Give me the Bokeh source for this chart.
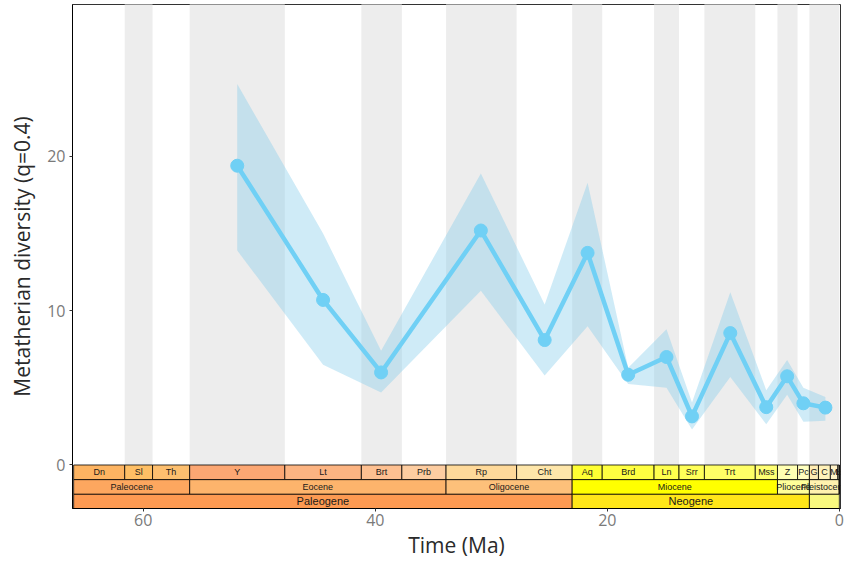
from bokeh.plotting import figure
from bokeh.models import Range1d, FixedTicker
from bokeh.core.properties import value
from bokeh.embed import file_html
from bokeh.resources import INLINE

# ---- diversity series (time in Ma, diversity q=0.4) ----
time_ma = [51.9, 44.5, 39.5, 30.9, 25.4, 21.7, 18.2, 14.9, 12.7, 9.4, 6.3, 4.5, 3.1, 1.2]
diversity = [19.4, 10.7, 6.0, 15.2, 8.1, 13.75, 5.85, 7.0, 3.15, 8.55, 3.75, 5.75, 4.0, 3.72]
upper = [24.7, 15.0, 7.4, 18.9, 10.4, 18.3, 6.3, 8.8, 4.05, 11.2, 4.85, 6.8, 5.0, 4.4]
lower = [13.9, 6.5, 4.7, 11.3, 5.8, 9.0, 5.25, 5.0, 2.3, 5.7, 2.64, 4.55, 2.8, 2.86]

# ---- shaded time bins ----
shade_old = [61.6, 56.0, 41.2, 33.9, 23.03, 15.97, 11.63, 5.333, 2.58]
shade_young = [59.2, 47.8, 37.71, 27.82, 20.44, 13.82, 7.246, 3.6, 0.0]

# ---- geological time scale ----
stage_names = ["Dn", "Sl", "Th", "Y", "Lt", "Brt", "Prb", "Rp", "Cht", "Aq", "Brd", "Ln",
               "Srr", "Trt", "Mss", "Z", "Pc", "G", "C", "M", "L", "H"]
stage_old = [66.0, 61.6, 59.2, 56.0, 47.8, 41.2, 37.71, 33.9, 27.82, 23.03, 20.44, 15.97,
             13.82, 11.63, 7.246, 5.333, 3.6, 2.58, 1.8, 0.774, 0.129, 0.0117]
stage_young = [61.6, 59.2, 56.0, 47.8, 41.2, 37.71, 33.9, 27.82, 23.03, 20.44, 15.97, 13.82,
               11.63, 7.246, 5.333, 3.6, 2.58, 1.8, 0.774, 0.129, 0.0117, 0.0]
stage_colors = ["#FDB462", "#FEBF65", "#FDBF6F", "#FCA773", "#FCB482", "#FDC091", "#FDCDA1",
                "#FED99A", "#FEE6AA", "#FFFF33", "#FFFF41", "#FFFF4D", "#FFFF59", "#FFFF66",
                "#FFFF73", "#FFFFB3", "#FFFFBF", "#FFEDB3", "#FFF2BA", "#FFF2C7", "#FFF2D3",
                "#FEF2E0"]

epoch_names = ["Paleocene", "Eocene", "Oligocene", "Miocene", "Pliocene", "Pleistocene", ""]
epoch_old = [66.0, 56.0, 33.9, 23.03, 5.333, 2.58, 0.0117]
epoch_young = [56.0, 33.9, 23.03, 5.333, 2.58, 0.0117, 0.0]
epoch_colors = ["#FDA75F", "#FDB46C", "#FDC07A", "#FFFF00", "#FFFF99", "#FFF2AE", "#FEF2E0"]

period_names = ["Paleogene", "Neogene", ""]
period_old = [66.0, 23.03, 2.58]
period_young = [23.03, 2.58, 0.0]
period_colors = ["#FD9A52", "#FFE619", "#F9F97F"]

x_ticks = [60, 40, 20, 0]
y_ticks = [0, 10, 20]

ROW = 0.95
Y_TOP = 29.85
Y_BOT = -2.82

p = figure(width=844, height=563, output_backend="svg", toolbar_location=None,
           x_range=Range1d(66.1, -0.1), y_range=Range1d(Y_BOT, Y_TOP),
           min_border_left=72, min_border_right=4, min_border_top=4, min_border_bottom=55,
           background_fill_color="white", border_fill_color="white")

p.xgrid.grid_line_color = None
p.ygrid.grid_line_color = None
p.outline_line_color = "#333333"
p.outline_line_width = 1

# shaded bins
p.quad(left=shade_old, right=shade_young, bottom=0, top=40,
       fill_color="#EDEDED", line_color=None)

# ribbon, line, points
p.varea(x=time_ma, y1=lower, y2=upper, fill_color="#87CEEB", fill_alpha=0.4)
p.line(time_ma, diversity, line_color="#70D0F5", line_width=4.5)
p.scatter(time_ma, diversity, size=13, fill_color="#70D0F5", line_color="#70D0F5")

# time scale rows
def row(old, young, names, colors, top, bottom, fs):
    p.quad(left=old, right=young, top=top, bottom=bottom, fill_color=colors,
           line_color="black", line_width=0.8)
    mids = [(a + b) / 2 for a, b in zip(old, young)]
    p.text(x=mids, y=[(top + bottom) / 2] * len(mids), text=names,
           text_align="center", text_baseline="middle",
           text_font=value("Liberation Sans"), text_font_size=fs, text_color="#1a1a1a")

row(stage_old, stage_young, stage_names, stage_colors, 0, -ROW, "9px")
row(epoch_old, epoch_young, epoch_names, epoch_colors, -ROW, -2 * ROW, "9px")
row(period_old, period_young, period_names, period_colors, -2 * ROW, Y_BOT, "11px")

for ax, ticks in ((p.xaxis, x_ticks), (p.yaxis, y_ticks)):
    ax.ticker = FixedTicker(ticks=ticks)
    ax.minor_tick_line_color = None
    ax.major_tick_in = 0
    ax.major_tick_out = 3
    ax.major_tick_line_color = "#333333"
    ax.axis_line_color = "black"
    ax.axis_line_width = 1
    ax.major_label_text_font = "Open Sans"
    ax.major_label_text_font_size = "16px"
    ax.major_label_text_color = "#7a7a7a"
    ax.axis_label_text_font = "Open Sans"
    ax.axis_label_text_font_size = "21px"
    ax.axis_label_text_font_style = "normal"
    ax.axis_label_text_color = "#2a2a2a"

p.xaxis.axis_label = "Time (Ma)"
p.yaxis.axis_label = "Metatherian diversity (q=0.4)"
p.xaxis.major_label_standoff = 2
p.xaxis.axis_label_standoff = 2
p.yaxis.major_label_standoff = 4
p.yaxis.axis_label_standoff = 8

open("out.html", "w").write(file_html(p, INLINE))
